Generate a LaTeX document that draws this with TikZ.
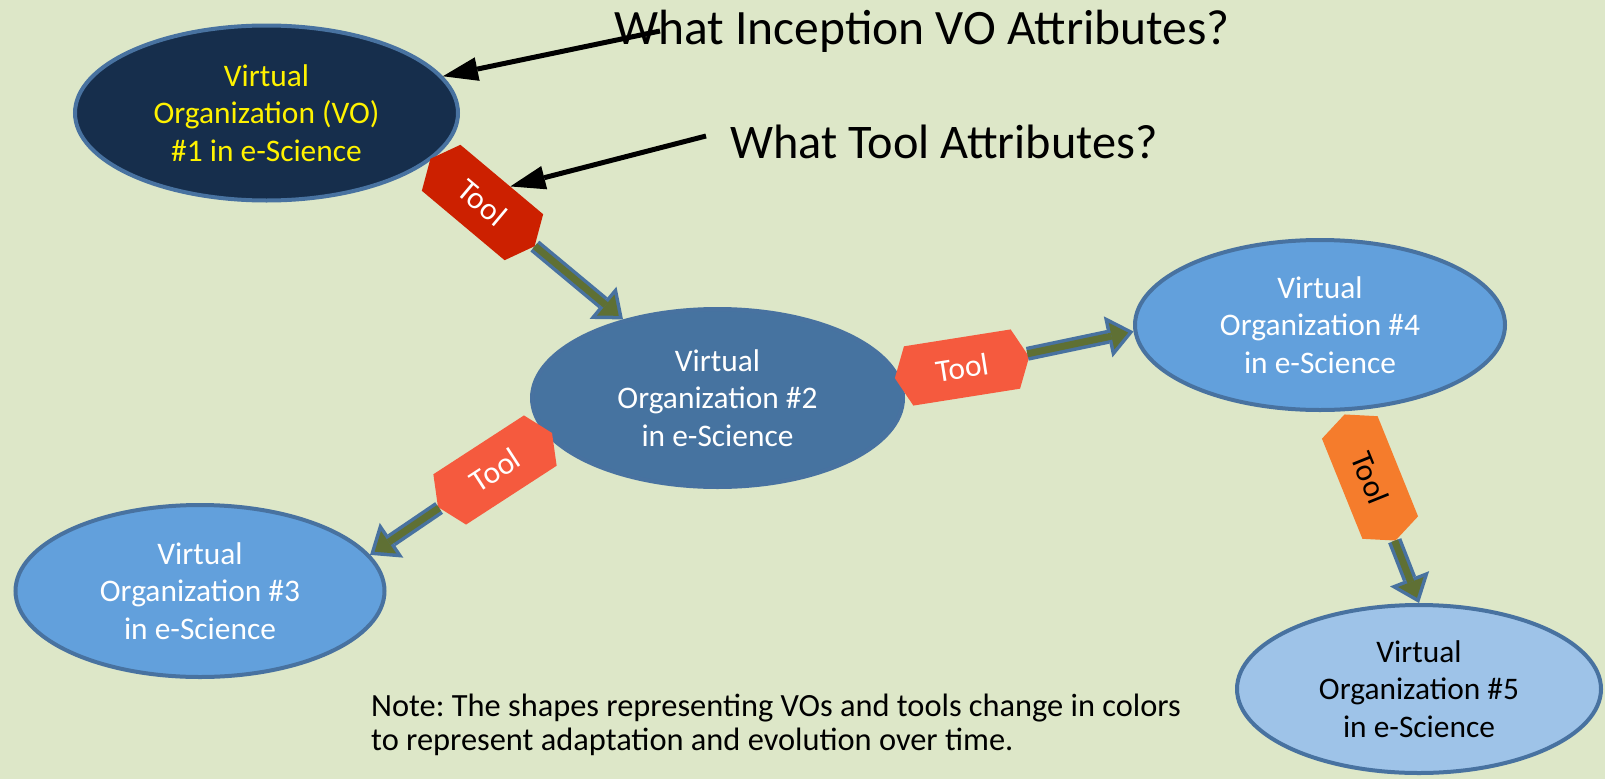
\documentclass[tikz,border=0pt]{standalone}
\usepackage{fontspec}
\setmainfont{Carlito}
\usetikzlibrary{shapes.geometric,shapes.symbols,arrows.meta}
\frenchspacing

\definecolor{bgreen}{RGB}{221,231,200}
\definecolor{vonavy}{RGB}{22,46,76}
\definecolor{vosteel}{RGB}{70,115,160}
\definecolor{vosky}{RGB}{98,160,220}
\definecolor{vopale}{RGB}{158,195,232}
\definecolor{edgeblue}{RGB}{72,114,160}
\definecolor{toolred}{RGB}{204,32,0}
\definecolor{toolcoral}{RGB}{245,90,62}
\definecolor{toolorange}{RGB}{245,124,44}
\definecolor{shaftolive}{RGB}{95,112,52}

\begin{document}
\begin{tikzpicture}[x=1pt,y=-1pt,
  vo/.style={ellipse,draw=edgeblue,line width=4pt,inner sep=0pt,align=center,
    font=\fontsize{31.4}{37.5}\selectfont},
  tool/.style={signal,signal to=east and west,signal pointer angle=130,
    minimum width=136pt,minimum height=60pt,inner sep=0pt,text=white,
    font=\fontsize{31.4}{37.5}\selectfont},
  fatedge/.style={draw=edgeblue,line width=14pt,
    -{Triangle[length=26pt,width=42pt,line width=0pt]}},
  fatcore/.style={draw=shaftolive,line width=7pt,shorten >=5.6pt,
    -{Triangle[length=16.9pt,width=27.3pt,line width=0pt]}},
  ask/.style={draw=black,line width=5pt,
    -{Triangle[length=35pt,width=24pt,line width=0pt]}},
  title/.style={inner sep=0pt,anchor=base west}]
\useasboundingbox (0,0) rectangle (1605,779);
\fill[bgreen] (0,0) rectangle (1605,779); %background

%virtual organizations
\node[vo,fill=vonavy,text=yellow,minimum width=383pt,minimum height=175pt] (vo1)
  at (266.5,113) {Virtual\\Organization (VO)\\\#1 in e-Science};
\node[vo,fill=vosteel,text=white,minimum width=371pt,minimum height=178pt] (vo2)
  at (717.5,398) {Virtual\\Organization \#2\\in e-Science};
\node[vo,fill=vosky,text=white,minimum width=369pt,minimum height=172pt] (vo3)
  at (200,591) {Virtual\\Organization \#3\\in e-Science};
\node[vo,fill=vosky,text=white,minimum width=370pt,minimum height=170pt] (vo4)
  at (1320,325) {Virtual\\Organization \#4\\in e-Science};
\node[vo,fill=vopale,text=black,minimum width=364pt,minimum height=168pt] (vo5)
  at (1419,689) {Virtual\\Organization \#5\\in e-Science};

%tools
\node[tool,fill=toolred,rotate=-40] (tool1) at (482.5,202.5) {Tool};
\node[tool,fill=toolcoral,rotate=9] (tool2) at (962,367.5) {Tool};
\node[tool,fill=toolcoral,rotate=33] (tool3) at (495,470) {Tool};
\node[tool,fill=toolorange,text=black,rotate=-68] (tool4) at (1370,477.5) {Tool};

%evolution arrows
\draw[fatedge] (tool1) -- (vo2);
\draw[fatcore] (tool1) -- (vo2);
\draw[fatedge] (tool2) -- (vo4.182);
\draw[fatcore] (tool2) -- (vo4.182);
\draw[fatedge] (tool3) -- (vo3.12);
\draw[fatcore] (tool3) -- (vo3.12);
\draw[fatedge] (tool4) -- (vo5.north);
\draw[fatcore] (tool4) -- (vo5.north);

%questions
\node[title,font=\fontsize{49.5}{58}\selectfont] (askvo) at (614,44) {What Inception VO Attributes?};
\node[title,font=\fontsize{48.3}{58}\selectfont] (asktool) at (730,158) {What Tool Attributes?};
\coordinate (vofrom) at (660,31);
\coordinate (toolfrom) at (706,136);
\draw[ask] (vofrom) -- (vo1);
\draw[ask] (toolfrom) -- (tool1.70);

%note
\node[font=\fontsize{32.4}{34}\selectfont,align=left,anchor=north west,inner sep=0pt]
  (note) at (371,694) {Note: The shapes representing VOs and tools change in colors\\
  to represent adaptation and evolution over time.};
\end{tikzpicture}
\end{document}
